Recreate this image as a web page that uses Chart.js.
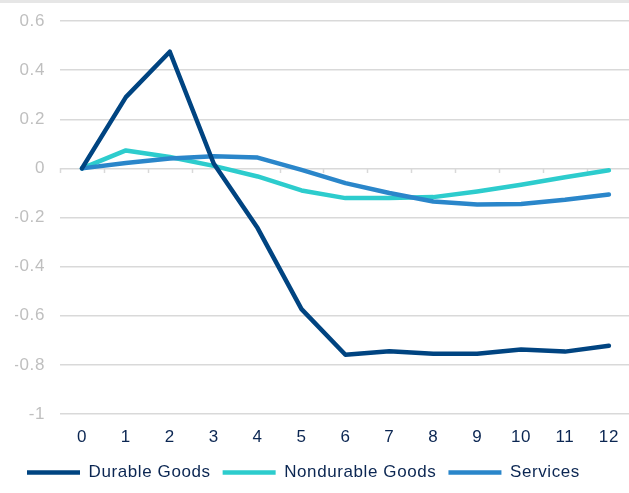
<!DOCTYPE html>
<html>
<head>
<meta charset="utf-8">
<script src="https://cdn.jsdelivr.net/npm/chart.js@4/dist/chart.umd.min.js"></script>
<style>
  html, body { margin: 0; padding: 0; background: #ffffff; overflow: hidden; }
  #wrap { position: relative; width: 629px; height: 493px; overflow: hidden; }
  #topband { position: absolute; left: 0; top: 0; width: 629px; height: 3px; background: #e6e6e6; }
  canvas { position: absolute; left: 0; top: 0; }
</style>
</head>
<body>
<div id="wrap">
  <canvas id="chart" width="632" height="493"></canvas>
  <div id="topband"></div>
</div>
<script>
// Periods after the shock
const categories = ['0', '1', '2', '3', '4', '5', '6', '7', '8', '9', '10', '11', '12'];

// Responses by consumption component
const durableGoods    = [0, 0.29, 0.475, 0.02, -0.243, -0.573, -0.759, -0.745, -0.755, -0.755, -0.737, -0.746, -0.722];
const nondurableGoods = [0, 0.073, 0.046, 0.01, -0.033, -0.09, -0.121, -0.121, -0.117, -0.094, -0.067, -0.036, -0.008];
const services        = [0, 0.022, 0.04, 0.049, 0.044, -0.006, -0.06, -0.1, -0.135, -0.147, -0.145, -0.128, -0.106];

// Value-axis tick labels, bottom to top
const yTickLabels = ['-1', '-0.8', '-0.6', '-0.4', '-0.2', '0', '0.2', '0.4', '0.6'];

const FONT = 'Liberation Sans, Arial, sans-serif';
const GRID = '#d9d9d9';

// Slightly open letter spacing for all canvas text
const spacingPlugin = {
  id: 'spacing',
  beforeUpdate(chart) { chart.ctx.letterSpacing = '0.6px'; },
  beforeDraw(chart) { chart.ctx.letterSpacing = '0.6px'; }
};

// Small tick marks on the zero line at the category boundaries
const zeroTicks = {
  id: 'zeroTicks',
  beforeDatasetsDraw(chart) {
    const { ctx, scales: { x, y } } = chart;
    const y0 = Math.round(y.getPixelForValue(0));
    const step = x.width / categories.length;
    ctx.save();
    ctx.strokeStyle = GRID;
    ctx.lineWidth = 1.5;
    ctx.beginPath();
    for (let i = 0; i <= categories.length; i++) {
      const px = Math.round(x.left + i * step) + 0.5;
      ctx.moveTo(px, y0);
      ctx.lineTo(px, y0 + 5);
    }
    ctx.stroke();
    ctx.restore();
  }
};

const lineStyle = {
  fill: false,
  tension: 0,
  pointRadius: 0,
  pointHoverRadius: 0,
  borderCapStyle: 'round',
  borderJoinStyle: 'round'
};

new Chart(document.getElementById('chart'), {
  type: 'line',
  data: {
    labels: categories,
    datasets: [
      Object.assign({ label: 'Durable Goods', data: durableGoods, borderColor: '#004481', backgroundColor: '#004481', borderWidth: 4.5, order: 0 }, lineStyle),
      Object.assign({ label: 'Nondurable Goods', data: nondurableGoods, borderColor: '#2dcccd', backgroundColor: '#2dcccd', borderWidth: 4.5, order: 2 }, lineStyle),
      Object.assign({ label: 'Services', data: services, borderColor: '#2a86ca', backgroundColor: '#2a86ca', borderWidth: 4.5, order: 1 }, lineStyle)
    ]
  },
  options: {
    responsive: false,
    animation: false,
    devicePixelRatio: 1,
    layout: { padding: { left: 15, right: 1, top: 21, bottom: 2 } },
    plugins: {
      tooltip: { enabled: false },
      legend: {
        position: 'bottom',
        align: 'start',
        labels: {
          usePointStyle: true,
          pointStyle: 'line',
          pointStyleWidth: 53,
          padding: 12,
          color: '#0b2652',
          font: { family: FONT, size: 17 },
          sort: (a, b) => a.datasetIndex - b.datasetIndex
        }
      }
    },
    scales: {
      x: {
        offset: true,
        grid: { display: false, drawTicks: false },
        border: { display: false },
        ticks: { color: '#0b2652', font: { family: FONT, size: 17 }, padding: 13, maxRotation: 0, autoSkip: false },
        afterFit(scale) { scale.height = 38; }
      },
      y: {
        min: -1,
        max: 0.6,
        grid: { color: GRID, lineWidth: 1.5, drawTicks: true, tickLength: 15, tickColor: 'rgba(0,0,0,0)' },
        border: { display: false },
        ticks: {
          stepSize: 0.2,
          padding: 0,
          color: '#bfbfbf',
          font: { family: FONT, size: 17 },
          callback: (v, i) => yTickLabels[i]
        },
        afterFit(scale) { scale.width = 45; }
      }
    }
  },
  plugins: [spacingPlugin, zeroTicks]
});
</script>
</body>
</html>
